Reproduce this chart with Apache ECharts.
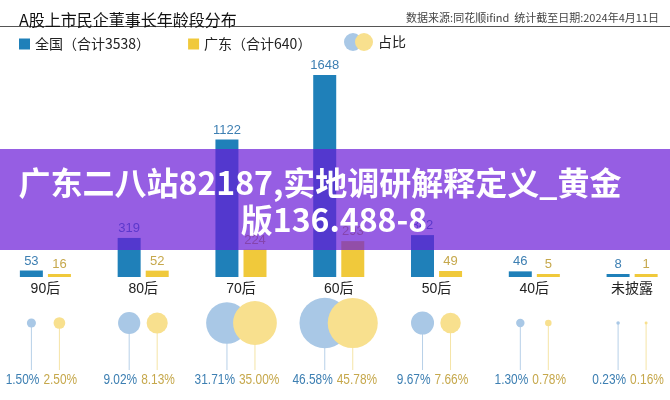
<!DOCTYPE html>
<html>
<head>
<meta charset="utf-8">
<title>A股上市民企董事长年龄段分布</title>
<script src="https://cdn.jsdelivr.net/npm/echarts@6/dist/echarts.min.js"></script>
<style>
    html, body { margin: 0; padding: 0; background: #fff; }
    #chart { width: 670px; height: 400px; }
</style>
</head>
<body>
<div id="chart"></div>
<script>
    'use strict';

    const categories = ['90后', '80后', '70后', '60后', '50后', '40后', '未披露'];
    const nationalCounts = [53, 319, 1122, 1648, 342, 46, 8];
    const guangdongCounts = [16, 52, 224, 293, 49, 5, 1];
    const nationalShare = [1.50, 9.02, 31.71, 46.58, 9.67, 1.30, 0.23];
    const guangdongShare = [2.50, 8.13, 35.00, 45.78, 7.66, 0.78, 0.16];

    const BLUE = '#1f80b9';
    const YELLOW = '#f0c93b';
    const BLUE_TEXT = '#3d7fb2';
    const YELLOW_TEXT = '#c6a84c';
    const LATIN = '"Liberation Sans", "Noto Sans CJK SC", sans-serif';
    const CJK = '"Noto Sans CJK SC", sans-serif';

    // bubble + stick + percent label for one region
    var bubbleItem = function(fill, stroke, textColor, dx, align, tx) {
        return function(params, api) {
            const c = api.coord([api.value(0), 1]);
            const pct = api.value(1);
            const x = c[0] + dx;
            const y = c[1];
            return {
                type: 'group',
                children: [
                    { type: 'line', shape: { x1: x, y1: y, x2: x, y2: y + 47 }, style: { stroke: stroke, lineWidth: 1 } },
                    { type: 'circle', shape: { cx: x, cy: y, r: 3.7 * Math.sqrt(pct) }, style: { fill: fill } },
                    {
                        type: 'text', x: c[0] + tx, y: y + 57, scaleX: 0.85,
                        style: {
                            text: pct.toFixed(2) + '%', x: 0, y: 0,
                            align: align, verticalAlign: 'middle', fill: textColor,
                            font: '14px ' + LATIN
                        }
                    }
                ]
            };
        };
    };

    const chart = echarts.init(document.getElementById('chart'), null, { renderer: 'canvas' });

    chart.setOption({
        backgroundColor: '#fff',
        animation: false,
        title: {
            text: 'A股上市民企董事长年龄段分布',
            left: 14, top: 7,
            textStyle: { fontFamily: CJK, fontSize: 16, fontWeight: 'normal', color: '#111' }
        },
        legend: {
            data: ['全国（合计3538）', '广东（合计640）'],
            left: 14, top: 32,
            icon: 'rect', itemWidth: 11, itemHeight: 11, itemGap: 38,
            textStyle: { fontFamily: CJK, fontSize: 14, color: '#222' }
        },
        grid: [
            { left: -3.5, right: -11, top: 32, bottom: 123, outerBoundsMode: 'none' },
            { left: -3.5, right: -11, top: 323, bottom: 27, outerBoundsMode: 'none' }
        ],
        xAxis: [
            {
                type: 'category', gridIndex: 0, data: categories,
                axisLine: { show: false }, axisTick: { show: false },
                axisLabel: { margin: 5, fontSize: 14, color: '#222', fontFamily: LATIN }
            },
            {
                type: 'category', gridIndex: 1, data: categories, show: false
            }
        ],
        yAxis: [
            { type: 'value', gridIndex: 0, min: 0, max: 2000, show: false },
            { type: 'value', gridIndex: 1, min: 0, max: 1, show: false }
        ],
        series: [
            {
                name: '全国（合计3538）', type: 'bar', data: nationalCounts,
                barWidth: 23, barGap: '22%', barMinHeight: 3,
                itemStyle: { color: BLUE },
                label: { show: true, position: 'top', distance: 3, color: BLUE_TEXT, fontSize: 13, fontFamily: LATIN }
            },
            {
                name: '广东（合计640）', type: 'bar', data: guangdongCounts,
                barWidth: 23, barMinHeight: 3,
                itemStyle: { color: YELLOW },
                label: { show: true, position: 'top', distance: 3, color: YELLOW_TEXT, fontSize: 13, fontFamily: LATIN }
            },
            {
                type: 'custom', xAxisIndex: 1, yAxisIndex: 1,
                data: nationalShare.map((v, i) => [i, v]),
                renderItem: bubbleItem('#a9c8e6', '#b7d0e8', BLUE_TEXT, -14, 'right', -6)
            },
            {
                type: 'custom', xAxisIndex: 1, yAxisIndex: 1,
                data: guangdongShare.map((v, i) => [i, v]),
                renderItem: bubbleItem('#f8e08e', '#f5e4a6', YELLOW_TEXT, 14, 'left', -2)
            }
        ],
        graphic: [
            { type: 'text', right: 11, top: 12, style: { text: '数据来源:同花顺ifind  统计截至日期:2024年4月11日', font: '11px ' + CJK, fill: '#444' } },
            { type: 'line', shape: { x1: 0, y1: 26.5, x2: 670, y2: 26.5 }, style: { stroke: '#555', lineWidth: 1 } },
            { type: 'circle', shape: { cx: 353, cy: 42, r: 9 }, style: { fill: '#a9c8e6' } },
            { type: 'circle', shape: { cx: 364, cy: 42, r: 9 }, style: { fill: '#f8e08e' } },
            { type: 'text', x: 378, y: 42, style: { text: '占比', font: '14px ' + CJK, fill: '#222', verticalAlign: 'middle' } },
            { type: 'rect', z: 100, shape: { x: 0, y: 149, width: 670, height: 101 }, style: { fill: 'rgba(105, 25, 215, 0.7)' } },
            { type: 'text', z: 101, x: 320, y: 183, style: { text: '广东二八站82187,实地调研解释定义_黄金', font: 'bold 32px ' + CJK, fill: '#fff', align: 'center', verticalAlign: 'middle' } },
            { type: 'text', z: 101, x: 334, y: 220, style: { text: '版136.488-8', font: 'bold 32px ' + CJK, fill: '#fff', align: 'center', verticalAlign: 'middle' } }
        ]
    });
</script>
</body>
</html>
